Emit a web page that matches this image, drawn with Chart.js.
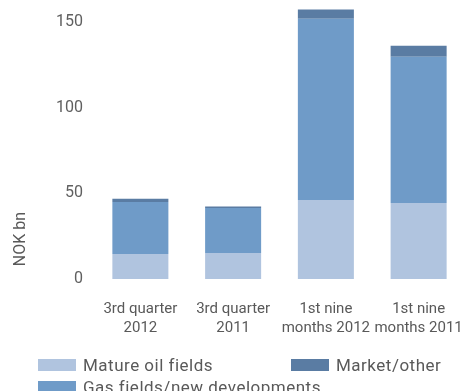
<!DOCTYPE html>
<html>
<head>
<meta charset="utf-8">
<script src="https://cdn.jsdelivr.net/npm/chart.js@4/dist/chart.umd.min.js"></script>
<style>
  html, body { margin: 0; padding: 0; background: #fff; overflow: hidden; }
  #wrap { position: relative; width: 461px; height: 391px; overflow: hidden; }
  #cv { position: absolute; left: 0; top: 0; }
  #ytitle { position: absolute; left: 19px; top: 239px; transform: translate(-50%, -50%) rotate(-90deg);
    font: 16px Roboto, sans-serif; color: #595959; white-space: nowrap; }
  .leg { position: absolute; font: 17px Roboto, sans-serif; letter-spacing: 0.5px; color: #595959; white-space: nowrap; line-height: 20px; height: 20px; }
  .leg i { position: absolute; left: 0; top: 4px; width: 38px; height: 12px; }
  .leg span { position: absolute; left: 45px; top: 0; }
</style>
</head>
<body>
<div id="wrap">
  <canvas id="cv" width="470" height="362" style="width:470px;height:362px"></canvas>
  <div id="ytitle"></div>
  <div id="legend"></div>
</div>
<script>
const categories = [["3rd quarter", "2012"], ["3rd quarter", "2011"], ["1st nine", "months 2012"], ["1st nine", "months 2011"]];
const seriesNames = ["Mature oil fields", "Gas fields/new developments", "Market/other"];
const matureOil = [14.6, 15.2, 46.2, 44.4];
const gasFields = [30.4, 26.3, 105.8, 85.4];
const marketOther = [1.8, 0.8, 5.3, 6.4];
const yTicks = [0, 50, 100, 150];
const yTitle = "NOK bn";

const colors = ["#B0C4DF", "#6F9BC8", "#5A7CA3"];
const seriesData = [matureOil, gasFields, marketOther];

document.getElementById('ytitle').textContent = yTitle;

// HTML legend (column-wise layout as in reference)
const legPos = [[38, 355], [38, 377], [291, 355]];
const legend = document.getElementById('legend');
seriesNames.forEach((n, i) => {
  const d = document.createElement('div');
  d.className = 'leg';
  d.style.left = legPos[i][0] + 'px';
  d.style.top = legPos[i][1] + 'px';
  const box = document.createElement('i');
  box.style.background = colors[i];
  const t = document.createElement('span');
  t.textContent = n;
  d.appendChild(box);
  d.appendChild(t);
  legend.appendChild(d);
});

new Chart(document.getElementById('cv'), {
  type: 'bar',
  data: {
    labels: categories,
    datasets: seriesNames.map((n, i) => ({
      label: n,
      data: seriesData[i],
      backgroundColor: colors[i],
      borderWidth: 0,
      categoryPercentage: 1,
      barPercentage: 0.604
    }))
  },
  options: {
    responsive: false,
    animation: false,
    devicePixelRatio: 1,
    layout: { padding: { left: 0, right: 5, top: 5, bottom: 4 } },
    plugins: { legend: { display: false }, tooltip: { enabled: false } },
    scales: {
      x: {
        stacked: true,
        grid: { display: false, drawTicks: false },
        border: { display: false },
        afterFit: (s) => { s.paddingLeft = 0; s.paddingRight = 0; },
        ticks: {
          padding: 20,
          color: '#595959',
          font: { family: 'Roboto', size: 15, lineHeight: 1.3 },
          maxRotation: 0,
          autoSkip: false
        }
      },
      y: {
        stacked: true,
        min: 0,
        max: 160,
        grid: { display: false, drawTicks: false },
        border: { display: false },
        afterBuildTicks: (s) => { s.ticks = yTicks.map(v => ({ value: v })); },
        afterFit: (s) => { s.width = 94; s.paddingTop = 0; s.paddingBottom = 0; },
        ticks: {
          padding: 11,
          color: '#606060',
          font: { family: 'Roboto', size: 16 }
        }
      }
    }
  }
});
</script>
</body>
</html>
